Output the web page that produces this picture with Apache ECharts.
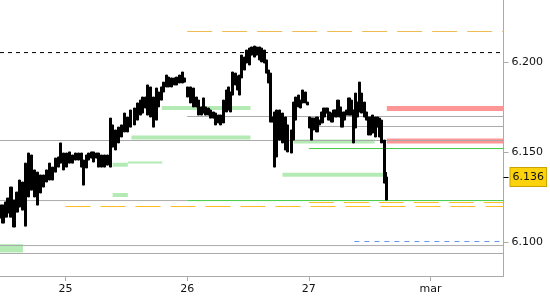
<!DOCTYPE html>
<html><head><meta charset="utf-8">
<script src="https://cdn.jsdelivr.net/npm/echarts@6/dist/echarts.min.js"></script>
<style>html,body{margin:0;padding:0;background:#fff}#c{width:550px;height:300px}</style>
</head><body><div id="c"></div>
<script>
// bar times in hours counted from the 24th 00:00
const barHours = [
11.27,11.66,12.26,12.65,13.24,13.83,14.42,15.01,15.60,16.19,
16.78,17.37,17.96,18.55,19.14,19.73,20.32,20.91,21.50,22.09,
22.68,23.07,23.66,24.26,24.85,25.44,26.03,26.62,27.21,27.60,
28.19,28.58,29.17,29.57,30.16,30.55,31.14,31.73,32.32,32.91,
33.30,33.89,34.48,35.07,35.66,36.25,36.84,37.63,38.22,38.81,
39.21,39.80,40.19,40.78,41.37,41.96,42.35,42.94,43.34,43.93,
44.32,44.91,45.50,45.89,46.48,47.07,47.47,48.06,48.65,49.24,
49.83,50.22,50.81,51.21,51.60,52.19,52.58,53.17,53.57,54.16,
54.55,55.14,55.73,56.12,56.52,56.91,57.50,57.89,58.29,58.68,
59.27,59.66,60.25,60.65,61.24,61.63,62.22,62.62,63.21,63.60,
63.99,64.39,64.78,65.17,65.57,66.16,66.75,67.34,67.73,68.52,
68.91,69.30,69.89,70.29,70.68,71.27,71.66,72.06,72.45,72.84,
73.24,73.63,74.02,74.61,75.01,75.60,75.99,76.58,76.98,77.37,
77.76,78.16,78.55,78.94,79.53,79.93,80.32,80.91,81.30,81.70,
82.09,82.48,83.07,83.47,83.86,84.25,84.65,85.24,85.63,86.02,
86.42,87.01,87.40];
const highs = [
6.1204,6.1204,6.1221,6.1243,6.1304,6.1232,6.1276,6.1343,6.1332,6.1437,
6.1493,6.1482,6.1399,6.1387,6.1371,6.1371,6.1399,6.1437,6.1415,6.1465,
6.1471,6.1549,6.1493,6.1493,6.1499,6.1482,6.1493,6.1493,6.1493,6.1454,
6.1482,6.1493,6.1499,6.1499,6.1493,6.1493,6.1482,6.1482,6.1482,6.1687,
6.1649,6.1621,6.1637,6.1649,6.1715,6.1693,6.1732,6.1743,6.1771,6.1787,
6.1804,6.1804,6.1871,6.1860,6.1804,6.1854,6.1832,6.1860,6.1887,6.1926,
6.1915,6.1910,6.1910,6.1915,6.1926,6.1943,6.1910,6.1860,6.1860,6.1854,
6.1804,6.1787,6.1749,6.1799,6.1749,6.1743,6.1732,6.1721,6.1715,6.1704,
6.1704,6.1787,6.1843,6.1860,6.1832,6.1943,6.1937,6.1921,6.1926,6.2037,
6.2026,6.2065,6.2076,6.2082,6.2087,6.2082,6.2082,6.2076,6.2065,6.2010,
6.1954,6.1937,6.1693,6.1721,6.1732,6.1732,6.1715,6.1693,6.1649,6.1621,
6.1776,6.1804,6.1815,6.1787,6.1843,6.1832,6.1776,6.1693,6.1687,6.1687,
6.1687,6.1693,6.1676,6.1721,6.1743,6.1743,6.1721,6.1715,6.1732,6.1732,
6.1787,6.1749,6.1693,6.1721,6.1732,6.1799,6.1787,6.1732,6.1826,6.1776,
6.1887,6.1826,6.1776,6.1721,6.1693,6.1693,6.1704,6.1693,6.1693,6.1687,
6.1676,6.1565,6.1387];
const lows = [
6.1132,6.1104,6.1137,6.1160,6.1137,6.1082,6.1165,6.1193,6.1176,6.1087,
6.1249,6.1287,6.1249,6.1204,6.1271,6.1304,6.1332,6.1343,6.1343,6.1387,
6.1415,6.1437,6.1399,6.1415,6.1437,6.1437,6.1454,6.1454,6.1415,6.1315,
6.1410,6.1454,6.1465,6.1443,6.1465,6.1415,6.1415,6.1415,6.1426,6.1415,
6.1526,6.1510,6.1549,6.1582,6.1610,6.1610,6.1637,6.1649,6.1676,6.1704,
6.1715,6.1743,6.1704,6.1693,6.1637,6.1676,6.1749,6.1787,6.1832,6.1860,
6.1860,6.1860,6.1871,6.1871,6.1882,6.1882,6.1887,6.1804,6.1771,6.1749,
6.1749,6.1704,6.1704,6.1715,6.1704,6.1704,6.1687,6.1687,6.1649,6.1660,
6.1649,6.1660,6.1721,6.1732,6.1721,6.1815,6.1871,6.1843,6.1815,6.1910,
6.1954,6.1993,6.1982,6.2037,6.2026,6.2037,6.2010,6.1999,6.1993,6.1937,
6.1882,6.1665,6.1665,6.1415,6.1471,6.1565,6.1549,6.1510,6.1499,6.1493,
6.1565,6.1676,6.1749,6.1743,6.1771,6.1771,6.1760,6.1632,6.1565,6.1621,
6.1649,6.1610,6.1649,6.1660,6.1693,6.1715,6.1676,6.1665,6.1704,6.1693,
6.1715,6.1693,6.1637,6.1676,6.1704,6.1704,6.1704,6.1549,6.1632,6.1693,
6.1721,6.1715,6.1693,6.1676,6.1593,6.1593,6.1604,6.1582,6.1637,6.1582,
6.1549,6.1326,6.1232];
const lastPrice = 6.136;

const dayTickHours = [24, 48, 72, 96];
const dayTickLabels = ['25', '26', '27', 'mar'];
const priceTicks = [6.100, 6.150, 6.200];
const xRange = [11.075, 110.42];
const yRange = [6.0810, 6.2343];

// horizontal levels (null = edge of the chart)
const levelValues = [6.20510, 6.21680, 6.1741, 6.1560, 6.16960, 6.16405, 6.15625,
  6.1743, 6.1579, 6.1557, 6.1428, 6.1440, 6.1260, 6.1372,
  6.12290, 6.15180, 6.12290, 6.11960, 6.12180, 6.10015, 6.09790, 6.09350];
const levelFrom = [null, 48, 87.4, 87.4, 48, 72, null,
  43, 37, 69, 33.3, 36.3, 33.3, 66.8,
  48, 72, null, 24, 72, 81, null, null];
const levelTo = [null, null, null, null, null, null, null,
  60.5, 60.5, 85, 36.3, 43.1, 36.3, 86.8,
  null, null, 48, null, null, null, null, null];
const levelKind = ['prevHigh', 'pivotTop', 'resZone', 'resZone', 'gray', 'gray', 'gray',
  'supZone', 'supZone', 'supZone', 'supZone', 'supThin', 'supZone', 'supZone',
  'green', 'green', 'gray', 'pivot', 'pivot', 'blue', 'gray', 'gray'];
const bottomZone = { from: null, to: 15.6, low: 6.0941, high: 6.0987 };

const kindStyle = {
  prevHigh: { color: '#000000', width: 1, type: [4, 4], z: 1 },
  pivotTop: { color: '#f0bd55', width: 1, type: [25, 10], z: 1 },
  pivot: { color: '#ffbb22', width: 1, type: [25, 10], z: 1 },
  gray: { color: '#aaaaaa', width: 1, type: 'solid', z: 1 },
  green: { color: '#44cc44', width: 1, type: 'solid', z: 1 },
  blue: { color: '#6495ed', width: 1, type: [5, 5], z: 1 },
  resZone: { color: '#ff9696', width: 5, type: 'solid', z: 0 },
  supZone: { color: '#b4ebb4', width: 4, type: 'solid', z: 0 },
  supThin: { color: '#b4ebb4', width: 2, type: 'solid', z: 0 }
};

const candleData = highs.map((h, i) => [
  barHours[i],
  lows[i],
  i === highs.length - 1 ? lastPrice : h,
  lows[i],
  h
]);

const series = [];
levelValues.forEach((v, i) => {
  const st = kindStyle[levelKind[i]];
  const a = levelFrom[i] == null ? xRange[0] : levelFrom[i];
  const b = levelTo[i] == null ? xRange[1] : levelTo[i];
  series.push({
    type: 'line', data: [[a, v], [b, v]], symbol: 'none', silent: true,
    z: st.z, lineStyle: { color: st.color, width: st.width, type: st.type, cap: 'butt' }
  });
});
series.push({
  type: 'line', data: [], symbol: 'none', silent: true, z: 0,
  markArea: {
    silent: true,
    itemStyle: { color: '#b4ebb4' },
    data: [[
      { coord: [bottomZone.from == null ? xRange[0] : bottomZone.from, bottomZone.high] },
      { coord: [bottomZone.to, bottomZone.low] }
    ]]
  }
});
series.push({
  type: 'candlestick', data: candleData, barWidth: 2.6, z: 5, silent: true,
  itemStyle: { color: '#000', color0: '#000', borderColor: '#000', borderColor0: '#000', borderWidth: 1 }
});

const font = { fontFamily: 'DejaVu Sans', fontSize: 11, color: '#111' };
const chart = echarts.init(document.getElementById('c'), null, { renderer: 'canvas' });
chart.setOption({
  animation: false,
  backgroundColor: '#fff',
  grid: { left: 0, right: 45, top: 0, bottom: 24, containLabel: false },
  xAxis: {
    type: 'value', min: xRange[0], max: xRange[1],
    axisLine: { show: true, onZero: false, lineStyle: { color: '#aaaaaa', width: 1 } },
    axisTick: { show: true, customValues: dayTickHours, length: 5, lineStyle: { color: '#aaaaaa' } },
    axisLabel: Object.assign({ customValues: dayTickHours, margin: 8,
      formatter: v => dayTickLabels[dayTickHours.indexOf(v)] }, font),
    splitLine: { show: false }
  },
  yAxis: [{
    type: 'value', position: 'right', min: yRange[0], max: yRange[1],
    axisLine: { show: true, onZero: false, lineStyle: { color: '#aaaaaa', width: 1 } },
    axisTick: { show: true, customValues: priceTicks, length: 5, lineStyle: { color: '#aaaaaa' } },
    axisLabel: Object.assign({ customValues: priceTicks, margin: 8,
      formatter: v => v.toFixed(3) }, font),
    splitLine: { show: false }
  }, {
    type: 'value', position: 'right', min: yRange[0], max: yRange[1],
    axisLine: { show: false },
    axisTick: { show: true, customValues: [lastPrice], length: 5, lineStyle: { color: '#000' } },
    axisLabel: Object.assign({ customValues: [lastPrice], margin: 7,
      formatter: v => v.toFixed(3),
      backgroundColor: '#fbd20c', borderColor: '#c9a400', borderWidth: 1,
      padding: [4, 2, 3, 2] }, font),
    splitLine: { show: false }
  }],
  series: series
});
</script>
</body></html>
